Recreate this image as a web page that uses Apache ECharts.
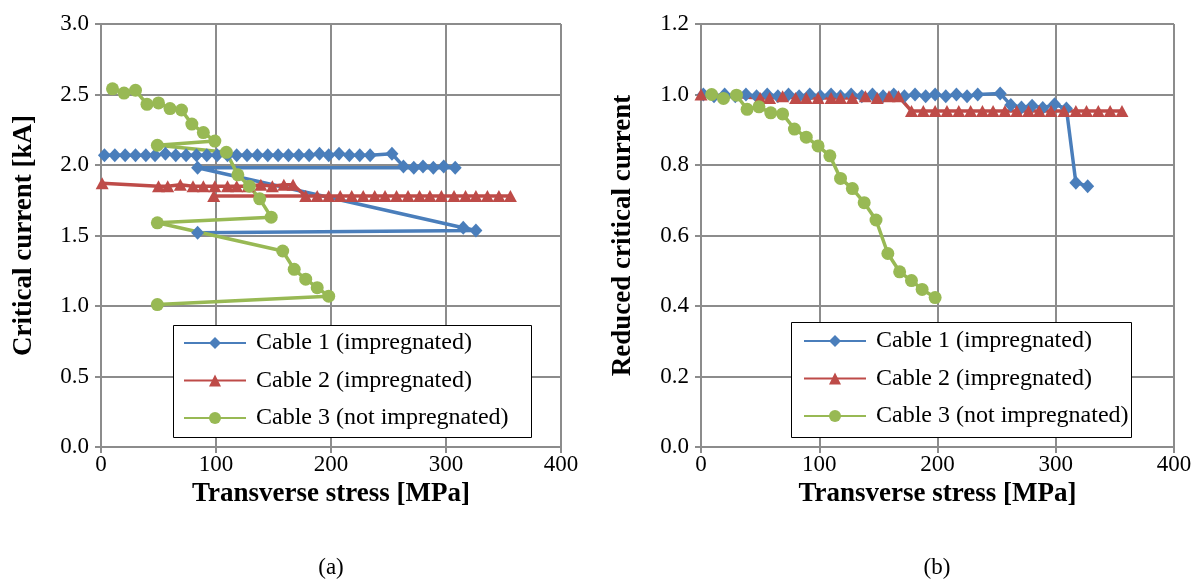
<!DOCTYPE html>
<html><head><meta charset="utf-8">
<script src="https://cdn.jsdelivr.net/npm/echarts@6/dist/echarts.min.js"></script>
<style>html,body{margin:0;padding:0;background:#fff}#c{width:1200px;height:581px}</style>
</head><body><div id="c"></div><script>
// ---- data ----
const seriesNames = ['Cable 1 (impregnated)', 'Cable 2 (impregnated)', 'Cable 3 (not impregnated)'];
const xTickLabels = ['0', '100', '200', '300', '400'];
const yTickLabelsA = ['0.0', '0.5', '1.0', '1.5', '2.0', '2.5', '3.0'];
const yTickLabelsB = ['0.0', '0.2', '0.4', '0.6', '0.8', '1.0', '1.2'];
const panelCaptions = ['(a)', '(b)'];
const axisTitles = ['Transverse stress [MPa]', 'Critical current [kA]', 'Reduced critical current'];

// (a) Critical current vs transverse stress (load/unload cycles)
const stressC1a = [3, 12, 21, 30, 39, 47, 56, 65, 74, 83, 92, 101, 110, 118, 127, 136, 145, 154, 163, 172, 181, 190, 198, 207, 216, 225, 234, 253, 263, 272, 280, 289, 298, 308, 84, 315, 326, 84];
const currentC1a = [2.07, 2.07, 2.07, 2.07, 2.07, 2.07, 2.08, 2.07, 2.07, 2.07, 2.07, 2.07, 2.07, 2.07, 2.07, 2.07, 2.07, 2.07, 2.07, 2.07, 2.07, 2.08, 2.07, 2.08, 2.07, 2.07, 2.07, 2.08, 1.99, 1.98, 1.99, 1.98, 1.99, 1.98, 1.98, 1.555, 1.535, 1.52];
const stressC2a = [1, 50, 58, 69, 80, 89, 99, 110, 118, 128, 139, 149, 159, 167, 178, 188, 198, 208, 218, 228, 238, 247, 257, 267, 277, 286, 296, 307, 317, 326, 336, 346, 356, 98];
const currentC2a = [1.87, 1.85, 1.85, 1.86, 1.85, 1.85, 1.85, 1.85, 1.85, 1.85, 1.86, 1.85, 1.86, 1.86, 1.78, 1.78, 1.78, 1.78, 1.78, 1.78, 1.78, 1.78, 1.78, 1.78, 1.78, 1.78, 1.78, 1.78, 1.78, 1.78, 1.78, 1.78, 1.78, 1.78];
const stressC3a = [10, 20, 30, 40, 50, 60, 70, 79, 89, 99, 49, 109, 119, 129, 138, 148, 49, 158, 168, 178, 188, 198, 49];
const currentC3a = [2.54, 2.51, 2.53, 2.43, 2.44, 2.40, 2.39, 2.29, 2.23, 2.17, 2.14, 2.09, 1.93, 1.85, 1.76, 1.63, 1.59, 1.39, 1.26, 1.19, 1.13, 1.07, 1.01];

// (b) Reduced critical current vs transverse stress
const stressC1b = [2, 11, 20, 29, 38, 47, 56, 65, 74, 83, 92, 101, 110, 118, 127, 136, 145, 154, 163, 172, 181, 190, 198, 207, 216, 225, 234, 253, 262, 271, 280, 289, 299, 309, 317, 327];
const reducedC1b = [1.0, 0.995, 1.0, 0.995, 1.0, 0.995, 1.0, 0.995, 1.0, 0.995, 1.0, 0.995, 1.0, 0.995, 1.0, 0.995, 1.0, 0.995, 1.0, 0.995, 1.0, 0.995, 1.0, 0.995, 1.0, 0.995, 1.0, 1.003, 0.97, 0.963, 0.968, 0.962, 0.972, 0.96, 0.75, 0.74];
const stressC2b = [0, 50, 58, 69, 80, 89, 99, 110, 118, 128, 139, 149, 159, 167, 178, 188, 198, 208, 218, 228, 238, 247, 257, 267, 277, 286, 296, 307, 317, 326, 336, 346, 356];
const reducedC2b = [1.0, 0.99, 0.99, 0.995, 0.99, 0.99, 0.99, 0.99, 0.99, 0.99, 0.995, 0.99, 0.995, 0.995, 0.953, 0.953, 0.953, 0.953, 0.953, 0.953, 0.953, 0.953, 0.953, 0.953, 0.953, 0.953, 0.953, 0.953, 0.953, 0.953, 0.953, 0.953, 0.953];
const stressC3b = [9, 19, 30, 39, 49, 59, 69, 79, 89, 99, 109, 118, 128, 138, 148, 158, 168, 178, 187, 198];
const reducedC3b = [1.0, 0.989, 0.998, 0.958, 0.965, 0.948, 0.945, 0.902, 0.879, 0.854, 0.826, 0.762, 0.733, 0.693, 0.644, 0.549, 0.497, 0.472, 0.447, 0.424];

// ---- styling ----
const colors = ['#4A7EBB', '#BE4B48', '#98B954'];
const symbols = ['diamond', 'triangle', 'circle'];
const symbolSizes = [[13, 14], [13, 12], 13];
const serif = '"Liberation Serif", "Times New Roman", serif';
const gridColor = '#8c8c8c';

function pairs(xs, ys) { return xs.map((x, i) => [x, ys[i]]); }

function xAxisCfg(gi) {
  return {
    gridIndex: gi, type: 'value', min: 0, max: 400, interval: 100,
    name: axisTitles[0], nameLocation: 'middle', nameGap: 30,
    nameTextStyle: { fontFamily: serif, fontSize: 27, fontWeight: 'bold', color: '#000' },
    axisLine: { show: true, lineStyle: { color: gridColor, width: 2 } },
    axisTick: { show: true, length: 6, lineStyle: { color: gridColor, width: 2 } },
    axisLabel: { fontFamily: serif, fontSize: 23, color: '#000', margin: 6,
      formatter: v => xTickLabels[Math.round(v / 100)] },
    splitLine: { show: true, lineStyle: { color: gridColor, width: 2 } }
  };
}
function yAxisCfg(gi, max, interval, labels, title, gap) {
  return {
    gridIndex: gi, type: 'value', min: 0, max: max, interval: interval,
    name: title, nameLocation: 'middle', nameGap: gap,
    nameTextStyle: { fontFamily: serif, fontSize: 27, fontWeight: 'bold', color: '#000' },
    axisLine: { show: true, lineStyle: { color: gridColor, width: 2 } },
    axisTick: { show: true, length: 6, lineStyle: { color: gridColor, width: 2 } },
    axisLabel: { fontFamily: serif, fontSize: 23, color: '#000', margin: 12,
      formatter: v => labels[Math.round(v / interval)] },
    splitLine: { show: true, lineStyle: { color: gridColor, width: 2 } }
  };
}
function lineSeries(i, gi, data) {
  return {
    name: seriesNames[i], type: 'line', xAxisIndex: gi, yAxisIndex: gi,
    data: data, symbol: symbols[i], symbolSize: symbolSizes[i], showAllSymbol: true,
    lineStyle: { color: colors[i], width: 3.5 },
    itemStyle: { color: colors[i] }, z: 3, animation: false
  };
}
function legendCfg(left, top) {
  return {
    data: seriesNames, orient: 'vertical', left: left, top: top, padding: 0,
    itemWidth: 62, itemHeight: 15, itemGap: 13.5, selectedMode: false,
    textStyle: { fontFamily: serif, fontSize: 24, color: '#000', lineHeight: 24, padding: [0, 0, 0, 5] },
    z: 6
  };
}

const chart = echarts.init(document.getElementById('c'), null, { renderer: 'canvas' });
chart.setOption({
  animation: false,
  backgroundColor: '#fff',
  grid: [
    { left: 101, top: 24, width: 460, height: 423 },
    { left: 701, top: 24, width: 473, height: 423 }
  ],
  xAxis: [xAxisCfg(0), xAxisCfg(1)],
  yAxis: [
    yAxisCfg(0, 3, 0.5, yTickLabelsA, axisTitles[1], 63),
    yAxisCfg(1, 1.2, 0.2, yTickLabelsB, axisTitles[2], 64)
  ],
  legend: [legendCfg(183, 331), legendCfg(803, 329)],
  graphic: [
    { type: 'rect', z: 5, shape: { x: 173.5, y: 325.5, width: 358, height: 112 },
      style: { fill: '#fff', stroke: '#000', lineWidth: 1 } },
    { type: 'rect', z: 5, shape: { x: 791.5, y: 322.5, width: 340, height: 115 },
      style: { fill: '#fff', stroke: '#000', lineWidth: 1 } },
    { type: 'text', z: 5, x: 331, y: 568, style: { text: panelCaptions[0], font: '23px ' + serif, fill: '#000', align: 'center', verticalAlign: 'middle' } },
    { type: 'text', z: 5, x: 937, y: 568, style: { text: panelCaptions[1], font: '23px ' + serif, fill: '#000', align: 'center', verticalAlign: 'middle' } }
  ],
  series: [
    lineSeries(0, 0, pairs(stressC1a, currentC1a)),
    lineSeries(1, 0, pairs(stressC2a, currentC2a)),
    lineSeries(2, 0, pairs(stressC3a, currentC3a)),
    lineSeries(0, 1, pairs(stressC1b, reducedC1b)),
    lineSeries(1, 1, pairs(stressC2b, reducedC2b)),
    lineSeries(2, 1, pairs(stressC3b, reducedC3b))
  ]
});
</script></body></html>
